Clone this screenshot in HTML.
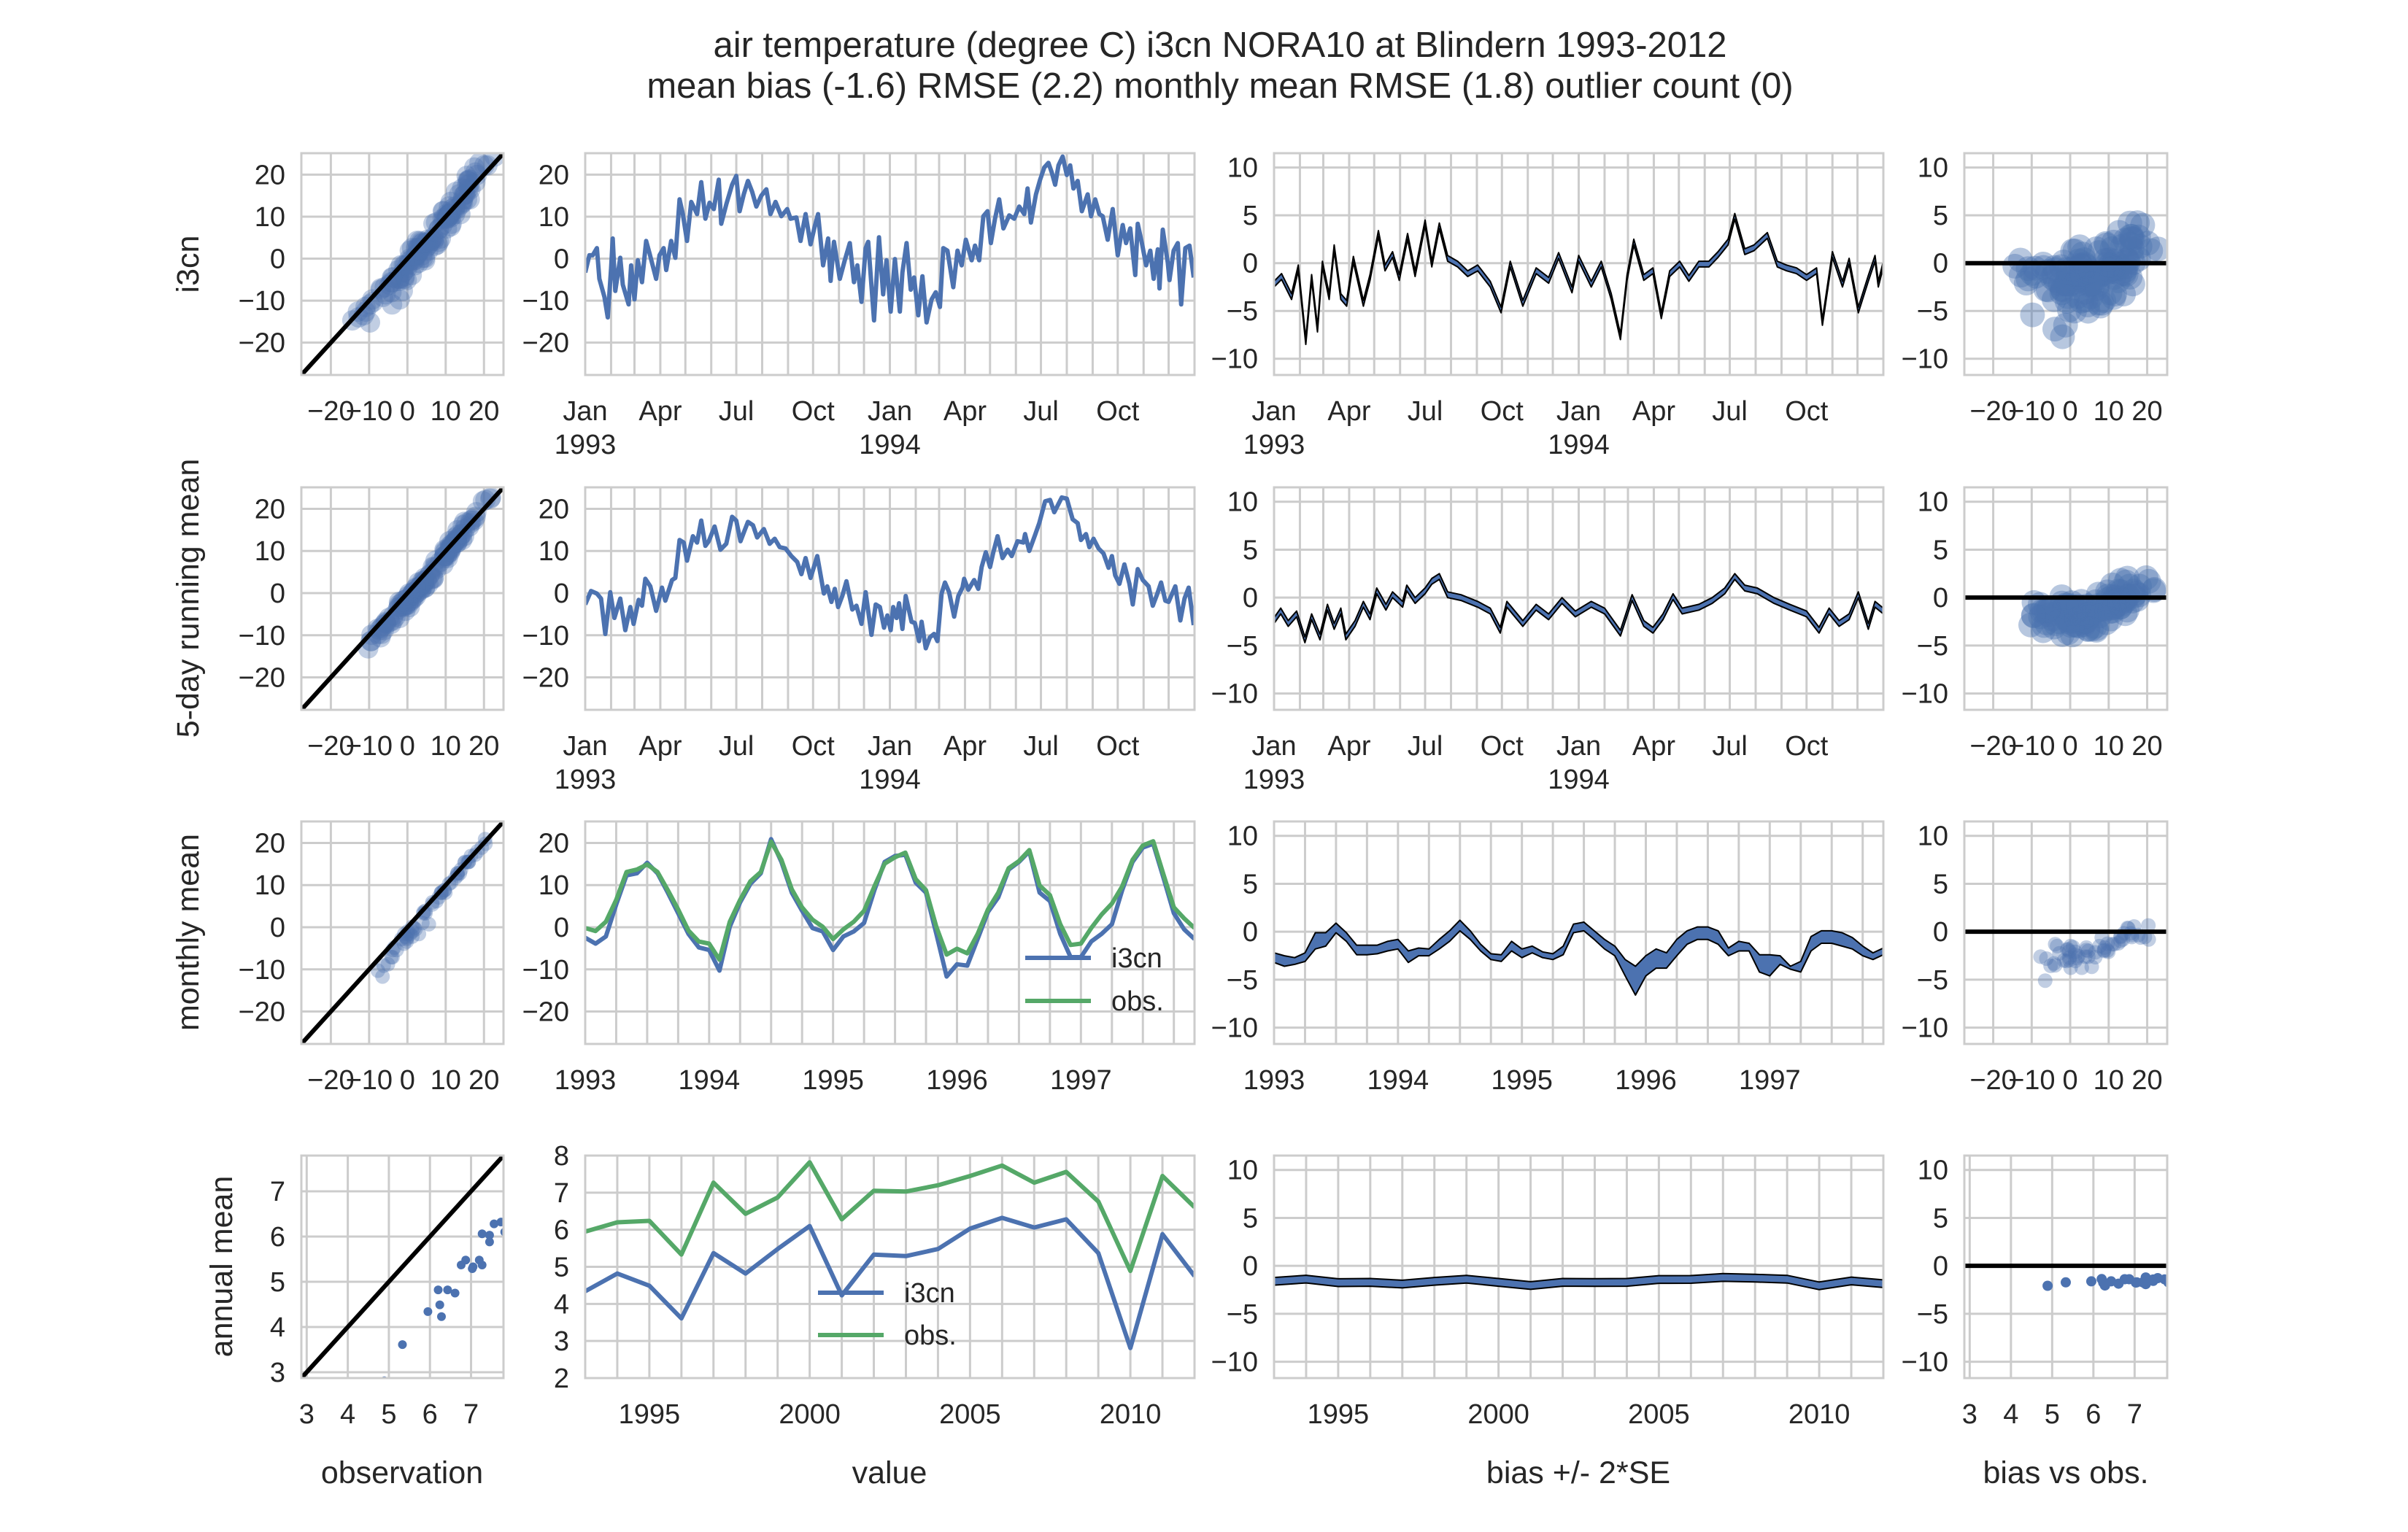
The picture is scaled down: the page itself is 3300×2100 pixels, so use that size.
<!DOCTYPE html>
<html><head><meta charset="utf-8"><style>
html,body{margin:0;padding:0;background:#fff;}
svg{display:block;font-family:"Liberation Sans",Arial,sans-serif;}
</style></head><body>
<svg id="fig" xmlns="http://www.w3.org/2000/svg" width="3300" height="2100" viewBox="0 0 3300 2100">
<rect width="3300" height="2100" fill="#fff"/>
<text x="1672" y="78" text-anchor="middle" font-size="49" fill="#262626">air temperature (degree C) i3cn NORA10 at Blindern 1993-2012</text>
<text x="1672" y="134" text-anchor="middle" font-size="49" fill="#262626">mean bias (-1.6) RMSE (2.2) monthly mean RMSE (1.8) outlier count (0)</text>
</svg>
<script>
// ---- data ----
const dailyDays=[0,5,9,14,17,23,27,31,33,36,42,45,52,55,59,63,68,73,77,85,89,94,97,103,108,113,117,122,127,134,139,144,149,154,160,163,169,176,181,185,190,195,200,205,211,217,222,228,235,242,246,253,258,264,270,275,279,285,291,294,298,305,311,317,322,326,331,336,339,346,352,357,361,366,371,377,380,385,390,394,399,404,409,415,420,425,429,434,441,446,451,456,463,467,472,477,482,486,491,496,501,508,514,520,526,530,534,540,545,550,555,559,563,567,572,577,581,585,590,595,602,606,611,616,620,626,632,638,644,648,653,659,662,667,672,677,681,686,688,692,698,700,705,710,714,719,724,729];
const dailyModel=[-3.3,0.8,0.8,2.5,-4.8,-9.1,-14,-2.2,4.8,-7.7,0.2,-6.2,-10.9,-1.6,-9.7,-0.4,-5.6,4.2,1.3,-4.8,0.8,2.5,-2.7,4.2,0.2,14.1,10.6,4.2,13.5,10.6,18.2,9.5,13.3,11.8,18.8,8.3,12.9,17.6,19.7,11.3,15.3,18.5,15.9,12.4,15.0,16.5,10.6,13.5,10.1,11.8,9.5,9.8,4.2,10.6,3.4,7.7,10.6,-1.6,4.8,-5.3,4.0,-4.8,-0.4,3.7,-5.6,-1.6,-10.3,2.5,4.0,-14.7,5.1,-8.5,-0.4,-12.6,-0.1,-12.6,-3.3,3.7,-7.4,-4.5,-13.5,-4.2,-15.2,-9.7,-8.0,-11.5,2.5,1.9,-6.8,1.9,-1.6,4.5,-0.4,3.1,-0.4,10.1,11.3,3.7,9.5,14.1,7.2,10.3,9.5,12.4,10.6,16.7,8.6,15.3,18.8,21.7,22.8,20.5,17.6,22.2,24.3,19.9,22.2,16.7,18.5,11.3,15.3,10.1,14.1,10.6,10.1,4.5,11.8,0.8,8.0,3.7,7.2,-3.9,8.3,3.7,-1.6,1.9,-4.8,2.2,-7.1,6.9,-1.0,-5.1,1.9,3.7,-10.9,2.5,3.1,-4.5];
const smoothDays=[0,7,14,19,24,30,35,42,48,54,58,64,68,72,78,85,92,96,104,108,113,118,122,129,134,139,144,148,155,162,169,176,181,186,191,195,201,206,214,221,227,233,240,247,254,259,264,270,278,286,290,295,299,303,308,313,320,325,331,336,343,348,353,358,362,366,369,373,376,380,384,391,395,400,403,408,413,418,422,427,431,436,442,447,452,454,459,466,471,475,480,485,489,494,500,506,511,518,525,527,532,539,544,551,557,562,571,577,584,590,594,600,604,609,615,621,627,631,635,640,646,652,656,662,668,675,680,685,690,695,699,707,713,718,723,729];
const smoothModel=[-2.7,0.5,-0.1,-1.3,-9.7,0.2,-5.9,-1.3,-8.8,-3.3,-7.3,-1.6,-3.0,3.4,1.6,-4.2,1.3,-1.8,3.1,3.6,12.6,12.0,7.7,13.5,12.0,17.2,11.2,12.3,15.8,10.3,11.7,18.1,17.2,12.3,14.9,16.9,16.1,13.2,15.2,11.7,12.9,10.9,10.6,8.8,7.4,4.5,8.3,3.6,8.8,-0.1,1.6,-2.1,1.0,-3.3,-0.7,2.8,-3.9,-3.0,-7.3,0.2,-9.9,-2.7,-3.3,-8.2,-5.3,-8.8,-3.3,-5.9,-2.4,-8.5,-0.7,-6.8,-7.1,-11.4,-6.8,-13.1,-10.5,-9.7,-11.4,-0.1,2.5,0.2,-5.6,-0.7,1.3,3.4,0.8,3.1,1.0,6.2,9.7,6.2,9.7,13.5,8.3,10.3,8.8,12.3,12.0,14.0,10.0,13.8,16.6,21.8,22.1,19.2,22.7,22.4,17.5,16.6,12.6,14.0,10.9,12.9,10.6,9.4,6.0,8.8,4.2,2.2,6.8,2.2,-2.7,5.7,3.1,1.6,-3.0,-0.4,2.5,-1.8,-2.1,1.6,-6.5,-1.3,1.3,-7.6];
const biasDays=[0,9,21,29,38,45,52,58,66,72,80,87,95,107,115,125,133,142,150,160,169,181,189,198,208,220,232,244,259,272,283,298,314,329,341,357,365,380,392,404,415,423,431,443,454,464,474,486,497,509,521,532,544,552,564,575,591,603,614,626,638,650,657,669,681,689,700,712,720,724,730];
const biasDaily=[-2.2,-1.4,-3.5,-0.5,-8.2,-1.5,-6.9,-0.1,-3.5,1.6,-3.5,-4.2,0.4,-4.2,-1.5,3.1,-0.5,0.9,-1.5,2.8,-1.1,4.2,-0.1,3.9,0.5,-0.1,-1.1,-0.5,-2.2,-4.9,-0.1,-4.2,-0.8,-1.8,0.8,-2.8,0.5,-2.2,-0.1,-3.5,-7.7,-1.5,2.2,-1.5,-0.8,-5.5,-1.1,-0.1,-1.6,-0.1,-0.1,0.9,2.2,4.9,1.2,1.6,2.9,-0.1,-0.5,-0.8,-1.5,-0.8,-6.2,0.9,-2.2,0.2,-4.9,-1.6,0.5,-2.2,-0.1];
const biasSmDays=[0,8,17,27,37,45,55,64,72,80,86,97,107,115,123,134,142,154,159,169,181,189,198,208,224,244,259,271,279,298,314,329,345,361,380,396,415,429,443,454,466,478,489,509,525,540,552,564,579,599,618,638,653,665,677,689,700,712,720,730];
const biasSmooth=[-2.4,-1.4,-2.7,-1.7,-4.4,-2.0,-4.1,-1.0,-3.0,-1.4,-4.1,-2.7,-0.7,-2.0,0.7,-1.0,0.3,-0.7,1.0,-0.3,0.7,1.7,2.2,0.3,0,-0.7,-1.4,-3.4,-0.7,-2.7,-1.0,-2.0,-0.3,-1.7,-0.7,-1.4,-3.7,0,-2.7,-3.4,-2.0,0.1,-1.4,-1.0,-0.3,0.7,2.2,1.0,0.7,-0.3,-1.0,-1.7,-3.4,-1.4,-2.7,-2.0,0.3,-3.0,-0.7,-1.4];
const seDaily=0.3;
const monthModel=[-2.5,-3.9,-2.2,5.4,12.3,12.8,15.3,12.8,8.2,3.3,-1.6,-4.8,-5.4,-10.3,0.1,5.9,10.3,12.8,20.9,15.5,8.2,3.9,-0.2,-1.0,-5.4,-2.2,-1.0,1.0,8.8,15.5,16.9,17.2,10.6,8.2,-1.6,-11.7,-8.8,-9.1,-2.8,3.6,7.1,13.7,15.5,18.0,8.2,6.2,-1.6,-7.1,-7.1,-3.4,-1.6,0.7,8.8,15.5,18.9,19.8,11.7,3.3,-0.5,-2.8];
const monthObs=[-0.2,-0.9,1.3,6.5,13.1,13.7,14.9,13.1,8.8,4.2,-0.8,-3.4,-3.9,-7.7,1.3,6.5,10.9,13.1,20.3,16.0,9.0,4.7,1.8,0.1,-2.8,-0.5,1.3,3.9,9.7,15.1,16.6,17.7,11.4,8.8,0.1,-6.5,-5.1,-6.2,-1.6,4.2,8.2,14.0,15.7,18.3,9.9,7.6,0.7,-4.2,-3.9,-0.2,3.0,5.6,9.7,16.0,19.4,20.4,12.5,4.7,2.1,-0.2];
const monthBiasHi=[-2.2,-2.5,-2.7,-2.2,-0.1,-0.1,0.9,-0.1,-1.4,-1.4,-1.4,-1.0,-0.8,-2.0,-1.7,-1.8,-0.8,0.1,1.2,0.1,-1.3,-2.3,-2.4,-1.0,-1.8,-1.5,-2.1,-2.3,-1.5,0.8,1.0,0.1,-0.8,-1.5,-2.9,-3.6,-2.5,-1.8,-2.2,-0.8,0.1,0.5,0.5,0.1,-1.7,-1.0,-1.2,-2.4,-2.4,-2.5,-3.6,-3.1,-0.5,0.1,0.1,-0.1,-0.6,-1.5,-2.2,-1.7];
const monthBiasLo=[-3.2,-3.6,-3.4,-3.1,-1.8,-1.5,-0.1,-1.0,-2.4,-2.4,-2.3,-2.0,-1.8,-3.2,-2.5,-2.5,-1.8,-1.0,0.1,-0.8,-2.0,-2.9,-3.1,-2.0,-2.7,-2.2,-2.7,-2.9,-2.4,-0.1,0.1,-0.8,-1.8,-2.5,-4.6,-6.6,-4.6,-3.8,-3.8,-2.5,-1.3,-0.8,-0.8,-1.3,-2.5,-2.0,-2.0,-4.2,-4.6,-3.4,-3.9,-4.2,-2.0,-1.2,-1.2,-1.5,-1.8,-2.5,-2.9,-2.4];
const years=[1993,1994,1995,1996,1997,1998,1999,2000,2001,2002,2003,2004,2005,2006,2007,2008,2009,2010,2011,2012];
const annObs=[5.95,6.2,6.24,5.33,7.27,6.43,6.87,7.82,6.28,7.05,7.03,7.2,7.45,7.73,7.27,7.56,6.76,4.89,7.45,6.61];
const annModel=[4.34,4.82,4.49,3.61,5.37,4.82,5.48,6.1,4.23,5.33,5.29,5.48,6.03,6.32,6.06,6.28,5.37,2.81,5.88,4.75];
const seAnnual=0.4;
const monthStarts=[0,31,59,90,120,151,181,212,243,273,304,334,365,396,424,455,485,516,546,577,608,638,669,699,730];
const timeTickDays=[0,90,181,273,365,455,546,638];
const timeTickLabels=['Jan','Apr','Jul','Oct','Jan','Apr','Jul','Oct'];
const timeTickYears=['1993','','','','1994','','',''];
const tempTicks=[-20,-10,0,10,20];
const biasTicks=[-10,-5,0,5,10];
const monthTickIdx=[0,12,24,36,48];
const monthTickLabels=['1993','1994','1995','1996','1997'];
const yearTicks=[1995,2000,2005,2010];
const annTicks=[3,4,5,6,7];
const annValTicks=[2,3,4,5,6,7,8];

// ---- rendering ----
const NS='http://www.w3.org/2000/svg';
const svg=document.getElementById('fig');
const BLUE='#4c72b0', GREEN='#55a868', GRID='#cccccc', TXT='#262626';
const COLS=[[413,690],[802,1637],[1746,2581],[2692,2970]];
const ROWS=[[210,514],[668,973],[1126,1431],[1584,1889]];
const TLIM=[-27.7,25.1], BLIM=[-11.7,11.5], ALIM=[2.87,7.79];
let clipN=0;
function mk(tag,attrs,parent){const e=document.createElementNS(NS,tag);for(const k in attrs)e.setAttribute(k,attrs[k]);(parent||svg).appendChild(e);return e;}
function fmt(v){return (v<0?'\u2212':'')+Math.abs(v);}
function interp(xs,ys,x){if(x<=xs[0])return ys[0];for(let i=1;i<xs.length;i++){if(x<=xs[i]){const t=(x-xs[i-1])/(xs[i]-xs[i-1]);return ys[i-1]+t*(ys[i]-ys[i-1]);}}return ys[ys.length-1];}
function panel(name,c,r,xlim,ylim){
  const [x0,x1]=COLS[c],[y0,y1]=ROWS[r];
  const g=mk('g',{});
  
  
  const sx=v=>x0+(v-xlim[0])/(xlim[1]-xlim[0])*(x1-x0);
  const sy=v=>y1-(v-ylim[0])/(ylim[1]-ylim[0])*(y1-y0);
  const id='clip'+(clipN++);
  const cp=mk('clipPath',{id:id},g);mk('rect',{x:x0,y:y0,width:x1-x0,height:y1-y0},cp);
  const grid=mk('g',{},g);
  const plot=mk('g',{'clip-path':'url(#'+id+')'},g);
  const frame=mk('rect',{x:x0,y:y0,width:x1-x0,height:y1-y0,fill:'none',stroke:GRID,'stroke-width':3},g);
  
  
  return {g,grid,plot,sx,sy,x0,x1,y0,y1,name};
}
function vgrid(p,vals){vals.forEach(v=>{const X=p.sx(v);if(X<p.x0-1||X>p.x1+1)return;mk('line',{x1:X,x2:X,y1:p.y0,y2:p.y1,stroke:GRID,'stroke-width':3},p.grid);});}
function hgrid(p,vals){vals.forEach(v=>{const Y=p.sy(v);mk('line',{x1:p.x0,x2:p.x1,y1:Y,y2:Y,stroke:GRID,'stroke-width':3},p.grid);});}
function yticks(p,vals){vals.forEach(v=>{const t=mk('text',{x:p.x0-22,y:p.sy(v)+13,'text-anchor':'end','font-size':38,fill:TXT},p.g);t.textContent=fmt(v);
  
  });}
function xticks(p,vals,labels,labels2){vals.forEach((v,i)=>{const t=mk('text',{x:p.sx(v),y:p.y1+62,'text-anchor':'middle','font-size':38,fill:TXT},p.g);t.textContent=labels?labels[i]:fmt(v);
  
  
  if(labels2&&labels2[i]){const t2=mk('text',{x:p.sx(v),y:p.y1+108,'text-anchor':'middle','font-size':38,fill:TXT},p.g);t2.textContent=labels2[i];
  
  }});}
function line(p,xs,ys,color,w,name){const d=xs.map((x,i)=>(i?'L':'M')+p.sx(x).toFixed(1)+','+p.sy(ys[i]).toFixed(1)).join('');const e=mk('path',{d:d,fill:'none',stroke:color,'stroke-width':w,'stroke-linejoin':'round'},p.plot);
  
  return e;}
function band(p,xs,lo,hi,name){let d=xs.map((x,i)=>(i?'L':'M')+p.sx(x).toFixed(1)+','+p.sy(hi[i]).toFixed(1)).join('');
  for(let i=xs.length-1;i>=0;i--)d+='L'+p.sx(xs[i]).toFixed(1)+','+p.sy(lo[i]).toFixed(1);d+='Z';
  const e=mk('path',{d:d,fill:BLUE,stroke:'#000','stroke-width':2,'stroke-linejoin':'round'},p.plot);
  
  }
function scatter(p,xs,ys,r,op,name){const g=mk('g',{fill:BLUE,'fill-opacity':op},p.plot);
  
  
  xs.forEach((x,i)=>{const c=mk('circle',{cx:p.sx(x).toFixed(1),cy:p.sy(ys[i]).toFixed(1),r:r},g);
  
  });}
function diag(p,lim){const e=mk('line',{x1:p.sx(lim[0]),y1:p.sy(lim[0]),x2:p.sx(lim[1]),y2:p.sy(lim[1]),stroke:'#000','stroke-width':6},p.plot);
  
  }
function zero(p){const e=mk('line',{x1:p.x0,x2:p.x1,y1:p.sy(0),y2:p.sy(0),stroke:'#000','stroke-width':6},p.plot);
  
  }
function label(x,y,txt,rot,name){const t=mk('text',{x:x,y:y,'text-anchor':'middle','font-size':43,fill:TXT,transform:rot?'rotate(-90 '+x+' '+y+')':''});t.textContent=txt;
  
  }
function legend(p,x,y1,y2){const g=mk('g',{},p.g);
  
  
  [[y1,BLUE,'i3cn'],[y2,GREEN,'obs.']].forEach(([y,c,t])=>{mk('line',{x1:x,x2:x+90,y1:y,y2:y,stroke:c,'stroke-width':6},g);
  const tx=mk('text',{x:x+118,y:y+13,'font-size':38,fill:TXT},g);tx.textContent=t;
  
  });}

const dailyObs=dailyDays.map((d,i)=>dailyModel[i]-interp(biasDays,biasDaily,d));
const dailyBias=dailyDays.map(d=>interp(biasDays,biasDaily,d));
const smoothObs=smoothDays.map((d,i)=>smoothModel[i]-interp(biasSmDays,biasSmooth,d));
const smoothBias=smoothDays.map(d=>interp(biasSmDays,biasSmooth,d));
const monthIdx=monthModel.map((_,i)=>i);
const monthBiasMid=monthBiasHi.map((h,i)=>(h+monthBiasLo[i])/2);
const annBias=annModel.map((m,i)=>m-annObs[i]);
const annHi=annBias.map(b=>b+seAnnual), annLo=annBias.map(b=>b-seAnnual);
const qIdx=[];for(let i=0;i<=60;i+=3)qIdx.push(i);

const tsRows=[[dailyDays,dailyModel,dailyObs,biasDays,biasDaily,dailyBias,'daily'],[smoothDays,smoothModel,smoothObs,biasSmDays,biasSmooth,smoothBias,'5day']];
tsRows.forEach(([days,model,obs,bd,bv,bAtObs,tag],r)=>{
  let p=panel(tag+'-scatter',0,r,TLIM,TLIM);vgrid(p,tempTicks);hgrid(p,tempTicks);yticks(p,tempTicks);xticks(p,tempTicks);
  scatter(p,obs,model,14,0.35,tag+'-model-vs-obs');diag(p,TLIM);
  p=panel(tag+'-timeseries',1,r,[0,730],TLIM);vgrid(p,monthStarts);hgrid(p,tempTicks);yticks(p,tempTicks);xticks(p,timeTickDays,timeTickLabels,timeTickYears);
  line(p,days,model,BLUE,6,tag+'-i3cn-line');
  p=panel(tag+'-bias',2,r,[0,730],BLIM);vgrid(p,monthStarts);hgrid(p,biasTicks);yticks(p,biasTicks);xticks(p,timeTickDays,timeTickLabels,timeTickYears);
  band(p,bd,bv.map(v=>v-seDaily),bv.map(v=>v+seDaily),tag+'-bias-band');
  p=panel(tag+'-bias-vs-obs',3,r,[-27.5,25.2],BLIM);vgrid(p,tempTicks);hgrid(p,biasTicks);yticks(p,biasTicks);xticks(p,tempTicks);
  scatter(p,obs,bAtObs,17,0.4,tag+'-bias-scatter');zero(p);
});
let p=panel('monthly-scatter',0,2,TLIM,TLIM);vgrid(p,tempTicks);hgrid(p,tempTicks);yticks(p,tempTicks);xticks(p,tempTicks);
scatter(p,monthObs,monthModel,10,0.35,'monthly-model-vs-obs');diag(p,TLIM);
p=panel('monthly-timeseries',1,2,[0,59],TLIM);vgrid(p,qIdx);hgrid(p,tempTicks);yticks(p,tempTicks);xticks(p,monthTickIdx,monthTickLabels);
line(p,monthIdx,monthModel,BLUE,6,'monthly-i3cn-line');line(p,monthIdx,monthObs,GREEN,6,'monthly-obs-line');legend(p,1405,1313,1372);
p=panel('monthly-bias',2,2,[0,59],BLIM);vgrid(p,qIdx);hgrid(p,biasTicks);yticks(p,biasTicks);xticks(p,monthTickIdx,monthTickLabels);
band(p,monthIdx,monthBiasLo,monthBiasHi,'monthly-bias-band');
p=panel('monthly-bias-vs-obs',3,2,[-27.5,25.2],BLIM);vgrid(p,tempTicks);hgrid(p,biasTicks);yticks(p,biasTicks);xticks(p,tempTicks);
scatter(p,monthObs,monthBiasMid,10,0.35,'monthly-bias-scatter');zero(p);
const yrGrid=[];for(let y=1993;y<=2012;y++)yrGrid.push(y);
p=panel('annual-scatter',0,3,ALIM,ALIM);vgrid(p,annTicks);hgrid(p,annTicks);yticks(p,annTicks);xticks(p,annTicks);
scatter(p,annObs,annModel,6,1,'annual-model-vs-obs');diag(p,ALIM);
p=panel('annual-timeseries',1,3,[1993,2012],[2,8]);vgrid(p,yrGrid);hgrid(p,annValTicks);yticks(p,annValTicks);xticks(p,yearTicks);
line(p,years,annModel,BLUE,6,'annual-i3cn-line');line(p,years,annObs,GREEN,6,'annual-obs-line');legend(p,1121,1772,1830);
p=panel('annual-bias',2,3,[1993,2012],BLIM);vgrid(p,yrGrid);hgrid(p,biasTicks);yticks(p,biasTicks);xticks(p,yearTicks);
band(p,years,annLo,annHi,'annual-bias-band');
p=panel('annual-bias-vs-obs',3,3,ALIM,BLIM);vgrid(p,annTicks);hgrid(p,biasTicks);yticks(p,biasTicks);xticks(p,annTicks);
scatter(p,annObs,annBias,7,1,'annual-bias-scatter');zero(p);
label(272,362,'i3cn',true,'y-label-i3cn');
label(272,820,'5-day running mean',true,'y-label-5day');
label(272,1278,'monthly mean',true,'y-label-monthly');
label(318,1736,'annual mean',true,'y-label-annual');
label(551,2033,'observation',false,'x-label-observation');
label(1219,2033,'value',false,'x-label-value');
label(2163,2033,'bias +/- 2*SE',false,'x-label-bias');
label(2831,2033,'bias vs obs.',false,'x-label-bias-vs-obs');
</script>
</body></html>
